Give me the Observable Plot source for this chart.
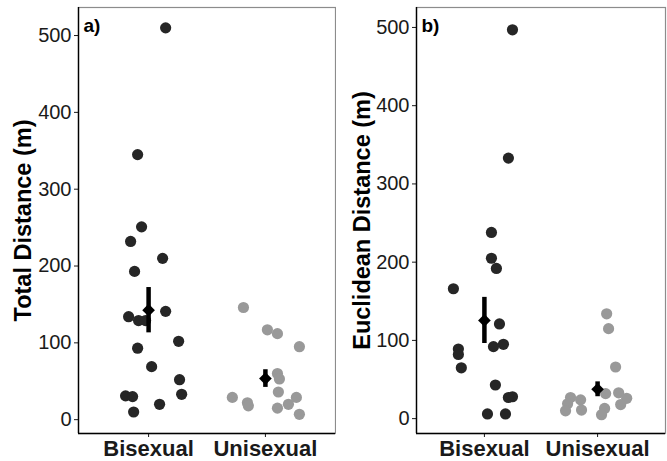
<!DOCTYPE html>
<html>
<head>
<meta charset="utf-8">
<script src="https://cdn.jsdelivr.net/npm/d3@7"></script>
<script src="https://cdn.jsdelivr.net/npm/@observablehq/plot@0.6"></script>
<style>
  html, body { margin: 0; padding: 0; background: white; }
  #wrap { display: flex; width: 667px; height: 461px; overflow: hidden; }
</style>
</head>
<body>
<div id="wrap"></div>
<script>
// ---- data ----
const groups = ["Bisexual", "Unisexual"];
const yTicks = [0, 100, 200, 300, 400, 500];

// Panel a: Total Distance (m)
const totalBisexual = [510, 345, 251, 232, 210, 193, 141, 134, 129, 129, 102, 93, 69, 52, 33, 31, 30, 20, 10];
const totalBisexualJitter = [0.146, -0.094, -0.060, -0.154, 0.120, -0.120, 0.146, -0.171, -0.086, -0.026, 0.257, -0.094, 0.026, 0.265, 0.283, -0.197, -0.137, 0.094, -0.128];
const totalUnisexual = [146, 117, 112, 95, 60, 53, 36, 29, 22, 18, 29, 20, 15, 7];
const totalUnisexualJitter = [-0.188, 0.017, 0.103, 0.291, 0.103, 0.120, 0.111, -0.283, -0.154, -0.146, 0.265, 0.197, 0.103, 0.291];
const totalMean = [142.5, 53.5];
const totalSE = [29.5, 11.5];

// Panel b: Euclidean Distance (m)
const euclidBisexual = [497, 333, 238, 205, 192, 166, 121, 95, 92, 89, 82, 65, 43, 28, 27, 6, 6];
const euclidBisexualJitter = [0.248, 0.212, 0.062, 0.062, 0.106, -0.274, 0.133, 0.168, 0.080, -0.230, -0.230, -0.204, 0.097, 0.248, 0.212, 0.027, 0.186];
const euclidUnisexual = [134, 115, 66, 32, 33, 26, 18, 13, 5, 27, 24, 19, 10, 11];
const euclidUnisexualJitter = [0.080, 0.097, 0.159, 0.071, 0.186, 0.257, 0.204, 0.062, 0.035, -0.239, -0.150, -0.265, -0.283, -0.142];
const euclidMean = [125.5, 37.5];
const euclidSE = [29.5, 9.5];

function panel({values, jitters, means, ses, yDomain, yLabel, tag, width, marginLeft, marginRight, labelDx}) {
  const xDomain = [0.4, 2.6];
  const pts = [];
  values.forEach((vals, g) => vals.forEach((v, i) => pts.push({group: groups[g], x: g + 1 + jitters[g][i], y: v})));
  const summ = groups.map((g, i) => ({group: g, x: i + 1, mean: means[i], lo: means[i] - ses[i], hi: means[i] + ses[i]}));
  return Plot.plot({
    width, height: 461,
    marginLeft, marginRight, marginTop: 7, marginBottom: 28,
    style: {fontFamily: "'Liberation Sans', Arial, sans-serif", background: "white", color: "#1a1a1a", overflow: "visible"},
    x: {domain: xDomain},
    y: {domain: yDomain},
    color: {domain: groups, range: ["#262626", "#999999"]},
    marks: [
      Plot.frame({stroke: "#8c8c8c", strokeWidth: 1.2}),
      Plot.dot(pts, {x: "x", y: "y", r: 5.6, fill: "group"}),
      Plot.ruleX(summ, {x: "x", y1: "lo", y2: "hi", stroke: "black", strokeWidth: 4.5}),
      Plot.dot(summ, {x: "x", y: "mean", symbol: "diamond2", r: 5.7, fill: "black"}),
      Plot.axisY({ticks: yTicks, tickSize: 4, tickPadding: 3, fontSize: 20, label: null}),
      Plot.axisX({ticks: [1, 2], tickFormat: d => groups[d - 1], tickSize: 4, tickPadding: 3, fontSize: 22, fontWeight: "bold", label: null}),
      Plot.ruleX([xDomain[0]], {stroke: "black", strokeWidth: 1.4}),
      Plot.ruleY([yDomain[0]], {stroke: "black", strokeWidth: 1.4}),
      Plot.text([yLabel], {frameAnchor: "left", textAnchor: "middle", rotate: -90, dx: labelDx, fontSize: 23.5, fontWeight: "bold", fill: "black"}),
      Plot.text([tag], {frameAnchor: "top-left", dx: 5, dy: 11, fontSize: 19, fontWeight: "bold", textAnchor: "start", lineAnchor: "top", fill: "black"})
    ]
  });
}

const wrap = document.getElementById("wrap");
wrap.appendChild(panel({
  values: [totalBisexual, totalUnisexual],
  jitters: [totalBisexualJitter, totalUnisexualJitter],
  means: totalMean, ses: totalSE,
  yDomain: [-18, 536.5],
  yLabel: "Total Distance (m)", tag: "a)",
  width: 336, marginLeft: 78, marginRight: 1, labelDx: -55
}));
wrap.appendChild(panel({
  values: [euclidBisexual, euclidUnisexual],
  jitters: [euclidBisexualJitter, euclidUnisexualJitter],
  means: euclidMean, ses: euclidSE,
  yDomain: [-19, 525.5],
  yLabel: "Euclidean Distance (m)", tag: "b)",
  width: 331, marginLeft: 80, marginRight: 2, labelDx: -54
}));
</script>
</body>
</html>
